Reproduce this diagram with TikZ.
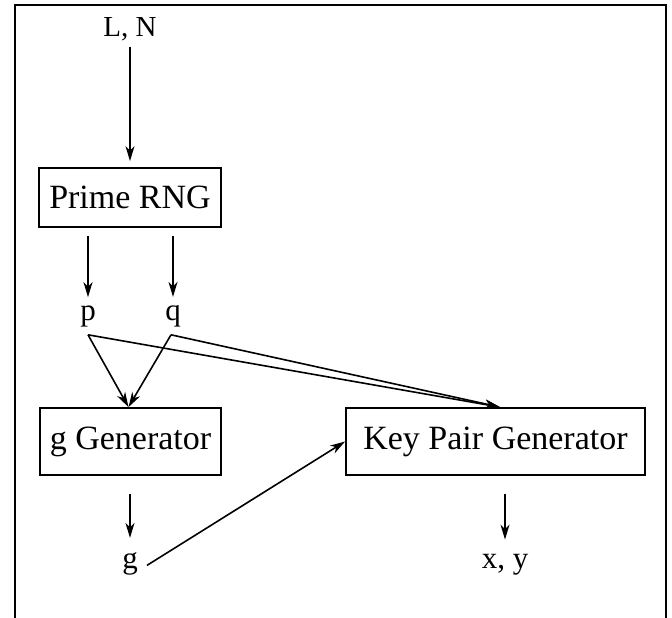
\documentclass[tikz,border=0pt]{standalone}
\usepackage{fontspec}
\setmainfont{Liberation Serif}
\usetikzlibrary{arrows.meta}
\begin{document}
\begin{tikzpicture}[x=1pt,y=-1pt,
  box/.style={draw, line width=1.8pt, inner sep=0pt, font=\fontsize{34}{41}\selectfont},
  lbl/.style={inner sep=0pt, anchor=base, font=\fontsize{31}{37}\selectfont},
  arr/.style={line width=1.6pt, -{Stealth[length=15pt,width=9pt,inset=4.5pt]}}]
\useasboundingbox (0,0) rectangle (672,618);
% open frame
\draw[line width=2.5pt] (15,618) -- (15,5) -- (666,5) -- (666,618);

% blocks
\node[box, minimum width=182pt, minimum height=59pt] (prime) at (130,197.5) {Prime RNG};
\node[box, minimum width=181pt, minimum height=67pt] (ggen) at (130.5,441.5) {g Generator};
\node[box, minimum width=299pt, minimum height=67pt] (kpg) at (495.5,441.5) {Key Pair Generator};

% values
\node[lbl, font=\fontsize{29}{35}\selectfont] (ln) at (130,37) {L, N};
\node[lbl] (p) at (88,320) {p};
\node[lbl] (q) at (173,320) {q};
\node[lbl] (g) at (130,568) {g};
\node[lbl] (xy) at (505,568) {x, y};

% flows
\draw[arr, shorten <=5pt, shorten >=6pt] (ln) -- (prime);
\draw[arr, shorten <=8pt, shorten >=8pt] (prime.south -| p) -- (p);
\draw[arr, shorten <=8pt, shorten >=8pt] (prime.south -| q) -- (q);
\draw[arr] ([yshift=-8pt]p.south) -- ([xshift=-2pt]ggen.north);
\draw[arr] ([xshift=-2pt,yshift=-8pt]q.south) -- ([xshift=-2pt]ggen.north);
\draw[arr] ([yshift=-8pt]p.south) -- ([xshift=4.5pt]kpg.north);
\draw[arr] ([xshift=-2pt,yshift=-8pt]q.south) -- ([xshift=4.5pt]kpg.north);
\draw[arr, shorten <=18pt, shorten >=14pt] (ggen.south -| g) -- (g);
\draw[arr] ([xshift=9pt,yshift=-2pt]g.east) -- (kpg.west);
\draw[arr, shorten <=18pt, shorten >=14pt] (kpg.south -| xy) -- (xy);
\end{tikzpicture}
\end{document}
